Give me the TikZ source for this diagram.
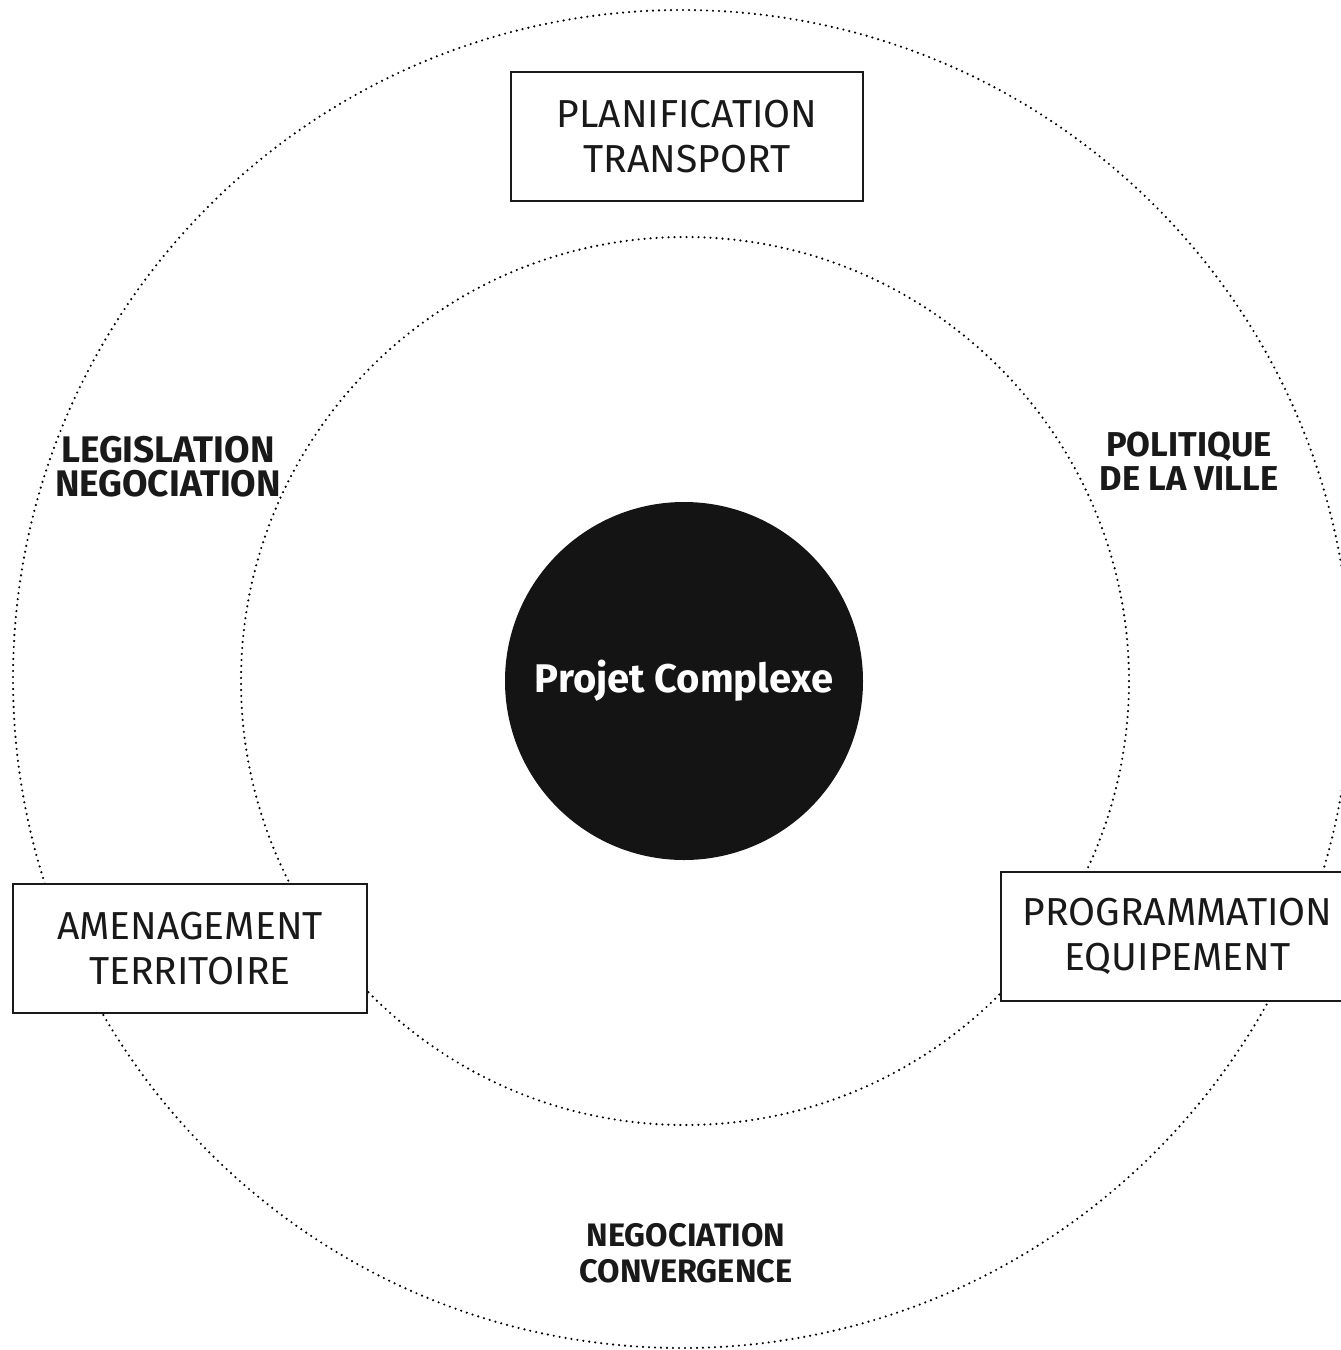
\documentclass[tikz,border=0pt]{standalone}
\usepackage{fontspec}
\setmainfont{Fira Sans}
\begin{document}
\begin{tikzpicture}[x=1pt,y=-1pt,
  ring/.style={circle, draw=black, line width=2.4pt, dash pattern=on 0pt off 6pt, line cap=round, inner sep=0pt},
  core/.style={circle, fill=black!92, inner sep=0pt, minimum size=358pt, text=white,
    font=\fontsize{40}{44}\selectfont\bfseries},
  box/.style={draw=black!90, line width=2pt, fill=white, align=center, inner sep=0pt,
    minimum height=129pt, text=black!90, font=\fontsize{39}{45}\selectfont},
  lab/.style={align=center, inner sep=0pt, text=black!90}
]
\path[use as bounding box, clip] (0,0) rectangle (1341,1350);
\fill[white] (0,0) rectangle (1341,1350);
\node[ring, minimum size=1338pt] (outer) at (682,679) {};
\node[ring, minimum size=888pt] (inner) at (685,681) {};
\node[core] (core) at (684,681) {Projet Complexe};
\node[box, minimum width=352pt] (plan) at (687,136.5) {PLANIFICATION\\TRANSPORT};
\node[box, minimum width=354pt] (amen) at (190,948.5) {AMENAGEMENT\\TERRITOIRE};
\node[box, minimum width=353pt] (prog) at (1177.5,936.5) {PROGRAMMATION\\EQUIPEMENT};
\node[lab, font=\fontsize{37}{34}\selectfont\bfseries] (legis) at (168,467) {LEGISLATION\\NEGOCIATION};
\node[lab, font=\fontsize{34.5}{34}\selectfont\bfseries] (polit) at (1189,461) {POLITIQUE\\DE LA VILLE};
\node[lab, font=\fontsize{32.5}{36}\selectfont\bfseries] (nego) at (686,1253) {NEGOCIATION\\CONVERGENCE};
\end{tikzpicture}
\end{document}
